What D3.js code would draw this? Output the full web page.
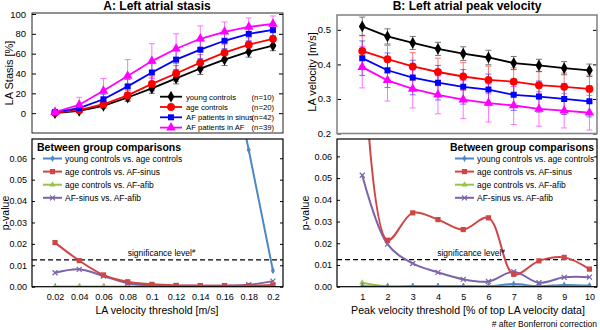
<!DOCTYPE html>
<html><head><meta charset="utf-8">
<script src="https://cdn.jsdelivr.net/npm/d3@7"></script>
<style>body{margin:0;background:#fff}svg{font-family:"Liberation Sans",Arial,Helvetica,sans-serif}</style>
</head><body><svg id="c" width="600" height="330"></svg>
<script>
// ---------- data ----------
const thresholdsA = [0.02,0.04,0.06,0.08,0.10,0.12,0.14,0.16,0.18,0.20];
const thresholdsB = [1,2,3,4,5,6,7,8,9,10];
const groupNames = ["young controls","age controls","AF patients in sinus","AF patients in AF"];
const groupN = ["(n=10)","(n=20)","(n=42)","(n=39)"];

const stasisYoung = [0,2.3,7.4,15.8,25,35,45,54,62,68];
const stasisAge   = [0.5,3,9,18,29.5,40,51,61,69,75];
const stasisSinus = [1,5,14,27,41,54,64,73,80,84];
const stasisAF    = [1,8.5,22.5,37.5,52.5,65,75,82,87,90];
const stasisYoungSD = [1,1.5,2.5,4,5,5.5,6,6,5.5,5];
const stasisAgeSD   = [1,2,3,5,7,8,8,8,7,6];
const stasisSinusSD = [1,3,5,7,9,10,9,8,7,6];
const stasisAFSD    = [2,7.5,12.5,16.5,17.5,15,13,10,9,8];

const velYoung = [0.510,0.481,0.462,0.445,0.431,0.420,0.404,0.397,0.389,0.383];
const velAge   = [0.439,0.415,0.394,0.378,0.365,0.355,0.350,0.340,0.335,0.329];
const velSinus = [0.418,0.383,0.362,0.347,0.335,0.327,0.312,0.307,0.300,0.293];
const velAF    = [0.392,0.354,0.329,0.312,0.298,0.288,0.281,0.271,0.266,0.260];
const velYoungSD = [0.027,0.022,0.019,0.019,0.020,0.021,0.019,0.018,0.019,0.018];
const velAgeSD   = [0.045,0.040,0.040,0.040,0.040,0.040,0.040,0.040,0.040,0.040];
const velSinusSD = [0.050,0.050,0.050,0.050,0.050,0.045,0.045,0.045,0.045,0.045];
const velAFSD    = [0.060,0.060,0.055,0.055,0.055,0.055,0.055,0.050,0.050,0.050];

const compNames = ["young controls vs. age controls","age controls vs. AF-sinus","age controls vs. AF-afib","AF-sinus vs. AF-afib"];
const pA_youngAge  = [0.6,0.55,0.5,0.45,0.4,0.35,0.3,0.12,0.0639,0.0075];
const pA_ageSinus  = [0.0206,0.0122,0.0055,0.0023,0.0011,0.0006,0.0005,0.0005,0.0005,0.0008];
const pA_ageAfib   = [0.0001,0.0001,0.0001,0.0001,0.0001,0.0001,0.0001,0.0001,0.0001,0.0001];
const pA_sinusAfib = [0.0065,0.0081,0.0050,0.0016,0.0006,0.0005,0.0005,0.0005,0.0009,0.0026];

const pB_youngAge  = [0.0002,0.0001,0.0002,0.0002,0.0002,0.0002,0.0012,0.0002,0.0008,0.0005];
const pB_ageSinus  = [0.12,0.0214,0.0340,0.0309,0.0263,0.0317,0.0057,0.0119,0.0135,0.0081];
const pB_ageAfib   = [0.0018,0.0001,0.0002,0.0002,0.0002,0.0002,0.0002,0.0002,0.0002,0.0002];
const pB_sinusAfib = [0.0513,0.0196,0.0107,0.0066,0.0034,0.0024,0.0069,0.0018,0.0043,0.0044];

const significance = 0.0125;
const ticksStasis = [0,20,40,60,80,100];
const ticksVel = [0.2,0.3,0.4,0.5];
const ticksP = [0,0.01,0.02,0.03,0.04,0.05,0.06];

// ---------- drawing ----------
const svg = d3.select("#c");
const topColors = ["#000000","#ff0000","#0000ff","#ff00ff"];
const topSymbols = [d3.symbolDiamond, d3.symbolCircle, d3.symbolSquare, d3.symbolTriangle];
const topSymSize = [40,48,36,40];
const botColors = ["#4f86c6","#cf4646","#98c24a","#7c63aa"];

const defs = svg.append("defs");
function clip(id,x0,x1,y0,y1){
  defs.append("clipPath").attr("id",id).append("rect").attr("x",x0).attr("y",y0).attr("width",x1-x0).attr("height",y1-y0);
}

// Scales
const xA = d3.scaleLinear().domain([0.001,0.2083]).range([32,283]);
const xB = d3.scaleLinear().domain([0,10.3]).range([337,597]);
const yStasis = d3.scaleLinear().domain([-20,101]).range([133,13]);
const yVel = d3.scaleLinear().domain([0.2,0.543]).range([133.5,15]);
const yPA = d3.scaleLinear().domain([0,0.069]).range([286.7,139]);
const yPB = d3.scaleLinear().domain([0,0.068]).range([286.7,139]);

function frame(x, y, stroke, sw){
  const [x0,x1]=x.range(), [y1,y0]=y.range();
  svg.append("rect").attr("x",x0).attr("y",y0).attr("width",x1-x0).attr("height",y1-y0)
    .attr("fill","none").attr("stroke",stroke).attr("stroke-width",sw);
}

// ---- Top panels ----
function topPanel(x, y, xs, series, sds, yTicks, fmt, boxColor, boxW, clipId){
  const [x0,x1]=x.range(), [y1,y0]=y.range();
  clip(clipId,x0,x1,y0,y1);
  const gL = svg.append("g").attr("transform",`translate(${x0},0)`)
    .call(d3.axisLeft(y).tickValues(yTicks).tickFormat(fmt).tickSizeInner(-4).tickSizeOuter(0).tickPadding(6));
  gL.select(".domain").remove();
  gL.selectAll("text").attr("font-size",9.5).attr("fill","#000");
  gL.selectAll("line").attr("stroke","#000");
  const gR = svg.append("g").attr("transform",`translate(${x1},0)`)
    .call(d3.axisRight(y).tickValues(yTicks).tickFormat("").tickSizeInner(-4).tickSizeOuter(0));
  gR.select(".domain").remove();
  gR.selectAll("line").attr("stroke","#000");
  const g = svg.append("g").attr("clip-path",`url(#${clipId})`);
  series.forEach((s,i)=>{
    const c = topColors[i];
    const eb = g.append("g").attr("stroke",c).attr("stroke-width",0.9).attr("opacity",0.6);
    s.forEach((v,j)=>{
      const px = x(xs[j]), top = y(v+sds[i][j]), bot = y(v-sds[i][j]);
      eb.append("line").attr("x1",px).attr("x2",px).attr("y1",top).attr("y2",bot);
      eb.append("line").attr("x1",px-3).attr("x2",px+3).attr("y1",top).attr("y2",top);
      eb.append("line").attr("x1",px-3).attr("x2",px+3).attr("y1",bot).attr("y2",bot);
    });
  });
  series.forEach((s,i)=>{
    const c = topColors[i];
    g.append("path").datum(s).attr("fill","none").attr("stroke",c).attr("stroke-width",1.8)
      .attr("d", d3.line().x((d,j)=>x(xs[j])).y(d=>y(d)));
    g.selectAll(null).data(s).enter().append("path")
      .attr("transform",(d,j)=>`translate(${x(xs[j])},${y(d)})`)
      .attr("d", d3.symbol(topSymbols[i], topSymSize[i])).attr("fill",c);
  });
  frame(x,y,boxColor,boxW);
}

topPanel(xA, yStasis, thresholdsA, [stasisYoung,stasisAge,stasisSinus,stasisAF],
  [stasisYoungSD,stasisAgeSD,stasisSinusSD,stasisAFSD], ticksStasis, d3.format("d"), "#222", 1, "cA1");
topPanel(xB, yVel, thresholdsB, [velYoung,velAge,velSinus,velAF],
  [velYoungSD,velAgeSD,velSinusSD,velAFSD], ticksVel, d3.format(".1f"), "#888", 1.6, "cB1");

// top-A legend
const legA = svg.append("g");
groupNames.forEach((n,i)=>{
  const yy = 96.7 + i*10.3;
  legA.append("line").attr("x1",160).attr("x2",182).attr("y1",yy).attr("y2",yy).attr("stroke",topColors[i]).attr("stroke-width",1.8);
  legA.append("path").attr("transform",`translate(171,${yy})`).attr("d",d3.symbol(topSymbols[i],topSymSize[i])).attr("fill",topColors[i]);
  legA.append("text").attr("x",186).attr("y",yy+2.8).attr("font-size",7.7).text(n);
  legA.append("text").attr("x",274).attr("y",yy+2.8).attr("font-size",7.7).attr("text-anchor","end").text(groupN[i]);
});

// titles
svg.append("text").attr("x",157).attr("y",10).attr("text-anchor","middle").attr("font-weight","bold").attr("font-size",12).text("A: Left atrial stasis");
svg.append("text").attr("x",467).attr("y",10).attr("text-anchor","middle").attr("font-weight","bold").attr("font-size",12).text("B: Left atrial peak velocity");
svg.append("text").attr("transform","translate(13,73) rotate(-90)").attr("text-anchor","middle").attr("font-size",11).text("LA Stasis [%]");
svg.append("text").attr("transform","translate(316,72) rotate(-90)").attr("text-anchor","middle").attr("font-size",11).text("LA velocity [m/s]");

// ---- Bottom panels ----
const botMarkers = [
  (g,c)=>g.append("path").attr("d",d3.symbol(d3.symbolDiamond,14)).attr("fill",c),
  (g,c)=>g.append("rect").attr("x",-2.6).attr("y",-2.6).attr("width",5.2).attr("height",5.2).attr("fill",c),
  (g,c)=>g.append("path").attr("d",d3.symbol(d3.symbolTriangle,16)).attr("fill",c),
  (g,c)=>g.append("path").attr("d","M-2.5,-2.5L2.5,2.5M-2.5,2.5L2.5,-2.5").attr("stroke",c).attr("stroke-width",1.2).attr("fill","none")
];
function botPanel(x, y, xs, series, xTicks, xFmt, clipId, legX, legTitleX, xLabel, xLabelX, pLabelX){
  const [x0,x1]=x.range(), [y1,y0]=y.range();
  clip(clipId,x0,x1,y0,y1);
  const gL = svg.append("g").attr("transform",`translate(${x0},0)`)
    .call(d3.axisLeft(y).tickValues(ticksP).tickFormat(d3.format(".2f")).tickSizeInner(-3).tickSizeOuter(0).tickPadding(5));
  gL.select(".domain").remove();
  gL.selectAll("text").attr("font-size",9).attr("fill","#000");
  const gR = svg.append("g").attr("transform",`translate(${x1},0)`)
    .call(d3.axisRight(y).tickValues(ticksP).tickFormat("").tickSizeInner(-3).tickSizeOuter(0));
  gR.select(".domain").remove();
  const gB = svg.append("g").attr("transform",`translate(0,${y1})`)
    .call(d3.axisBottom(x).tickValues(xTicks).tickFormat(xFmt).tickSizeInner(-3).tickSizeOuter(0).tickPadding(7));
  gB.select(".domain").remove();
  gB.selectAll("text").attr("font-size",9).attr("fill","#000");

  const g = svg.append("g").attr("clip-path",`url(#${clipId})`);
  g.append("line").attr("x1",x0).attr("x2",x1).attr("y1",y(significance)).attr("y2",y(significance))
    .attr("stroke","#000").attr("stroke-width",1.3).attr("stroke-dasharray","5,3");
  const order = [2,0,3,1];
  order.forEach(i=>{
    const s = series[i], c = botColors[i];
    g.append("path").datum(s).attr("fill","none").attr("stroke",c).attr("stroke-width",2)
      .attr("d", d3.line().x((d,j)=>x(xs[j])).y(d=>y(d)).curve(d3.curveCatmullRom.alpha(0.5)));
    s.forEach((v,j)=>{
      const m = g.append("g").attr("transform",`translate(${x(xs[j])},${y(v)})`);
      botMarkers[i](m,c);
    });
  });
  frame(x,y,"#000",1.2);
  const t = svg.append("text").attr("x",(x0+x1)/2+4).attr("y",y(significance)-4).attr("text-anchor","middle").attr("font-size",8.5).text("significance level");
  t.append("tspan").attr("baseline-shift","super").attr("font-size",6).text("#");
  const lg = svg.append("g");
  lg.append("text").attr("x",legTitleX).attr("y",150.5).attr("font-weight","bold").attr("font-size",10.5).text("Between group comparisons");
  compNames.forEach((n,i)=>{
    const yy = 158.5 + i*13.1, c = botColors[i];
    lg.append("line").attr("x1",legX).attr("x2",legX+19).attr("y1",yy).attr("y2",yy).attr("stroke",c).attr("stroke-width",2);
    botMarkers[i](lg.append("g").attr("transform",`translate(${legX+9.5},${yy})`),c);
    lg.append("text").attr("x",legX+22).attr("y",yy+3).attr("font-size",8.5).text(n);
  });
  svg.append("text").attr("transform",`translate(${pLabelX},213) rotate(-90)`).attr("text-anchor","middle").attr("font-size",10.5).text("p-value");
  svg.append("text").attr("x",xLabelX).attr("y",314).attr("text-anchor","middle").attr("font-size",10.6).text(xLabel);
}

botPanel(xA, yPA, thresholdsA, [pA_youngAge,pA_ageSinus,pA_ageAfib,pA_sinusAfib], thresholdsA,
  d=>d3.format(".2~f")(d), "cA2", 43, 37, "LA velocity threshold [m/s]", 157, 9);
botPanel(xB, yPB, thresholdsB, [pB_youngAge,pB_ageSinus,pB_ageAfib,pB_sinusAfib], thresholdsB,
  d3.format("d"), "cB2", 455, 450, "Peak velocity threshold [% of top LA velocity data]", 468, 309);

svg.append("text").attr("x",597).attr("y",327).attr("text-anchor","end").attr("font-size",8.5).text("# after Bonferroni correction");
</script></body></html>
